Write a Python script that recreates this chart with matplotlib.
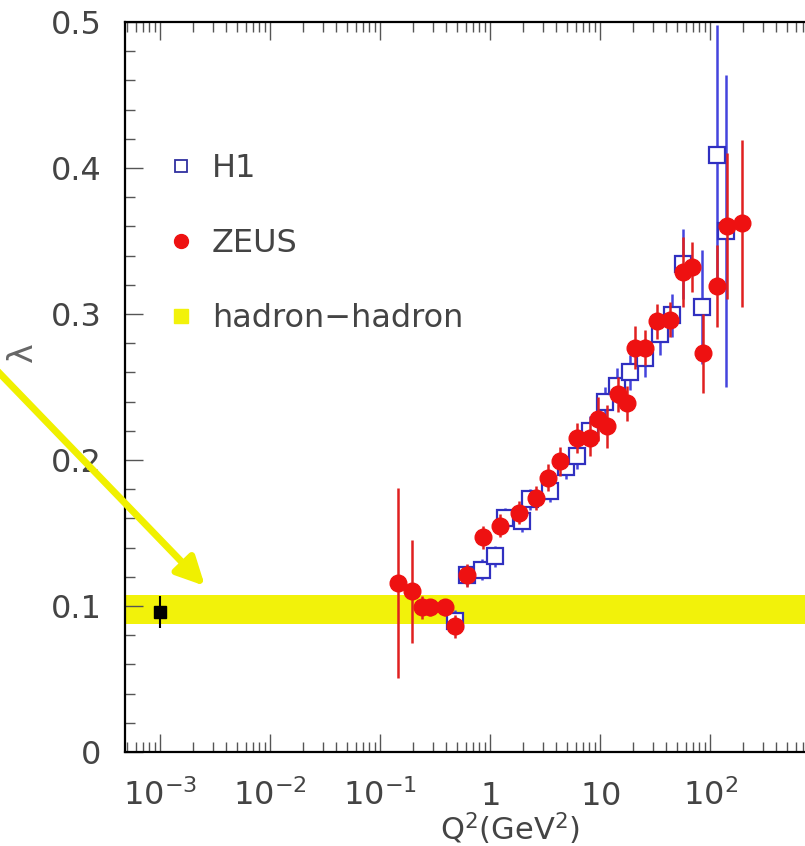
import numpy as np
import matplotlib
matplotlib.use("Agg")
import matplotlib.pyplot as plt
from matplotlib.lines import Line2D
from matplotlib.ticker import FixedLocator, FixedFormatter, LogLocator, MultipleLocator, NullFormatter

# H1 measurements (Q^2 in GeV^2, lambda, error)
h1_q2 = [0.48, 0.62, 0.85, 1.11, 1.37, 1.95, 2.31, 3.5, 4.9, 6.2, 8.1, 11.1, 14.3, 18.6,
         25.7, 35, 45, 57, 84.5, 116, 140]
h1_lam = [0.090, 0.121, 0.125, 0.134, 0.160, 0.158, 0.173, 0.179, 0.195, 0.203, 0.220, 0.240,
          0.251, 0.260, 0.270, 0.286, 0.299, 0.334, 0.305, 0.409, 0.357]
h1_err = [0.007, 0.007, 0.007, 0.007, 0.007, 0.007, 0.007, 0.008, 0.008, 0.009, 0.010, 0.010,
          0.012, 0.012, 0.013, 0.014, 0.015, 0.024, 0.039, 0.089, 0.107]

# ZEUS measurements
zeus_q2 = [0.146, 0.195, 0.241, 0.285, 0.39, 0.48, 0.62, 0.86, 1.23, 1.84, 2.62, 3.36, 4.33,
           6.2, 8.1, 9.6, 11.6, 14.6, 17.6, 20.8, 25.7, 33, 43, 57, 68.6, 86, 116, 143, 195]
zeus_lam = [0.116, 0.110, 0.099, 0.099, 0.099, 0.086, 0.121, 0.147, 0.155, 0.164, 0.174, 0.188,
            0.199, 0.215, 0.215, 0.228, 0.223, 0.245, 0.239, 0.277, 0.277, 0.295, 0.296, 0.329,
            0.332, 0.273, 0.319, 0.360, 0.362]
zeus_err = [0.065, 0.035, 0.008, 0.006, 0.006, 0.008, 0.008, 0.008, 0.008, 0.008, 0.008, 0.009,
            0.010, 0.010, 0.012, 0.015, 0.015, 0.012, 0.012, 0.015, 0.012, 0.012, 0.012, 0.024,
            0.017, 0.027, 0.028, 0.050, 0.057]

# hadron-hadron value and band
hh_q2 = [1e-3]
hh_lam = [0.096]
hh_err = [0.011]
band_lo, band_hi = 0.088, 0.1075

xtick_vals = [1e-3, 1e-2, 1e-1, 1, 10, 100]
xtick_labels = [r"$10^{-3}$", r"$10^{-2}$", r"$10^{-1}$", r"$1$", r"$10$", r"$10^{2}$"]

plt.rcParams['font.family'] = ['DejaVu Sans']
plt.rcParams['mathtext.fontset'] = 'dejavusans'

fig = plt.figure(figsize=(8.05, 8.46), dpi=100)
ax = fig.add_axes([125 / 805, 94 / 846, 772 / 805, 730 / 846])

ax.axhspan(band_lo, band_hi, color="#f2f20a", lw=0, zorder=1)

ax.errorbar(h1_q2, h1_lam, yerr=h1_err, fmt='s', ms=12, mfc='white', mec='#3030c0', mew=1.6,
            ecolor='#4444dd', elinewidth=1.8, capsize=0, zorder=3)
ax.errorbar(zeus_q2, zeus_lam, yerr=zeus_err, fmt='o', ms=12, mfc='#ee1111', mec='#ee1111',
            ecolor='#e02020', elinewidth=1.8, capsize=0, zorder=4)
ax.errorbar(hh_q2, hh_lam, yerr=hh_err, fmt='s', ms=9, color='black', elinewidth=1.5,
            capsize=0, zorder=5)

ax.set_xscale('log')
ax.set_xlim(4.8e-4, 5e3)
ax.set_ylim(0, 0.5)

ax.xaxis.set_major_locator(FixedLocator(xtick_vals))
ax.xaxis.set_major_formatter(FixedFormatter(xtick_labels))
ax.xaxis.set_minor_locator(LogLocator(base=10, subs=np.arange(2, 10), numticks=20))
ax.xaxis.set_minor_formatter(NullFormatter())
ax.yaxis.set_minor_locator(MultipleLocator(0.02))
ax.set_yticks([0, 0.1, 0.2, 0.3, 0.4, 0.5])
ax.set_yticklabels(["0", "0.1", "0.2", "0.3", "0.4", "0.5"])

ax.tick_params(which='both', direction='in', top=True, right=True, colors='#555555',
               labelsize=23, labelcolor='#444444')
ax.tick_params(which='major', length=13, width=1)
ax.tick_params(which='minor', length=7, width=1)
ax.tick_params(axis='y', pad=17)
ax.tick_params(axis='x', pad=38)
for lab in ax.get_xticklabels():
    lab.set_va('baseline')
for s in ax.spines.values():
    s.set_linewidth(1.6)

ax.set_xlabel(r"Q$^2$(GeV$^2$)", fontsize=22, color='#444444', va='top')
ax.xaxis.set_label_coords((510 - 125) / 772, -58 / 730)
ax.set_ylabel("λ", fontsize=24, color='#666666', va='center')
ax.yaxis.set_label_coords((22 - 125) / 772, 0.548)

handles = [
    Line2D([], [], ls='none', marker='s', ms=9, mfc='white', mec='#3030a0', mew=1.3),
    Line2D([], [], ls='none', marker='o', ms=10, color='#ee1111'),
    Line2D([], [], ls='none', marker='s', ms=10, color='#f2f20a'),
]
ax.legend(handles, ["H1", "ZEUS", "hadron\u2212hadron"], loc='upper left',
          bbox_to_anchor=(0.015, 0.86), frameon=False, fontsize=23, labelspacing=1.38,
          handlelength=1.0, handletextpad=0.45, labelcolor='#444444')

fig.patches.append(matplotlib.patches.FancyArrowPatch(
    (-0.02, 0.578), (0.257, 0.305), transform=fig.transFigure, arrowstyle='-|>',
    mutation_scale=42, color='#f0f000', lw=5))

fig.savefig("out.png", dpi=100)
